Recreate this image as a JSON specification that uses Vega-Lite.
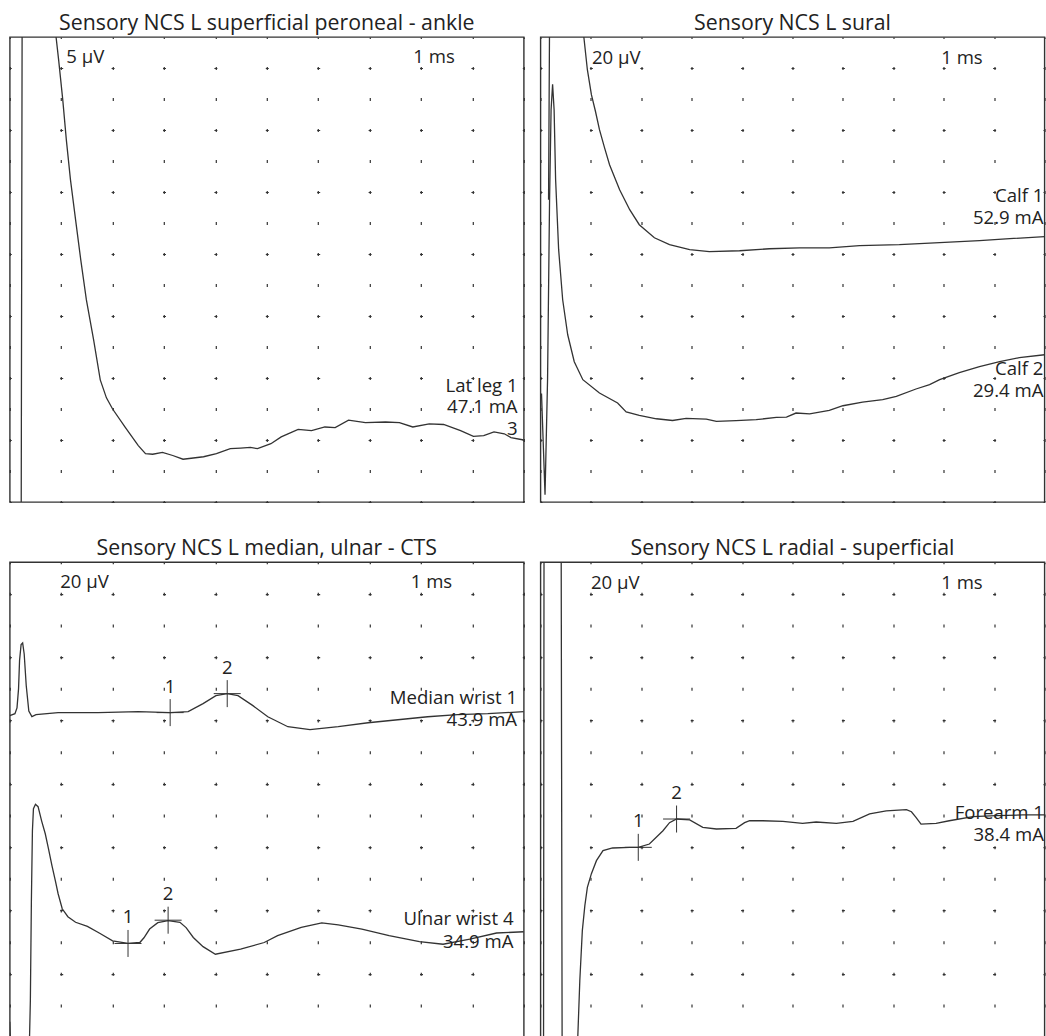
{
"$schema": "https://vega.github.io/schema/vega-lite/v6.json",
"background": "white",
"padding": {"left": 8.8, "top": 12, "right": 0, "bottom": 0},
"config": {
  "view": {"stroke": "#333", "strokeWidth": 1.4},
  "font": "Open Sans",
  "title": {"font": "Open Sans", "fontSize": 21.3, "fontWeight": "normal", "color": "#222", "offset": 3, "baseline": "alphabetic", "anchor": "middle"},
  "axis": {"labels": false, "ticks": false, "domain": false, "grid": true, "gridColor": "#333", "gridWidth": 1.2, "gridOpacity": 1, "minExtent": 0, "maxExtent": 0, "gridDashOffset": 1.5},
  "text": {"font": "Open Sans", "fontSize": 18.6, "color": "#222"},
  "line": {"stroke": "#333", "strokeWidth": 1.3}
},
"datasets": {
"traces": [
{"p":"TL","s":"Lat leg 1","t":0.22,"v":-85},{"p":"TL","s":"Lat leg 1","t":0.24,"v":3},{"p":"TL","s":"Lat leg 1","t":0.88,"v":3},{"p":"TL","s":"Lat leg 1","t":0.90,"v":0},{"p":"TL","s":"Lat leg 1","t":0.95,"v":-3.7},{"p":"TL","s":"Lat leg 1","t":1.03,"v":-10.1},{"p":"TL","s":"Lat leg 1","t":1.10,"v":-16.6},{"p":"TL","s":"Lat leg 1","t":1.18,"v":-23.0},{"p":"TL","s":"Lat leg 1","t":1.28,"v":-29.5},{"p":"TL","s":"Lat leg 1","t":1.38,"v":-35.9},{"p":"TL","s":"Lat leg 1","t":1.49,"v":-42.4},{"p":"TL","s":"Lat leg 1","t":1.63,"v":-48.8},{"p":"TL","s":"Lat leg 1","t":1.76,"v":-55.3},{"p":"TL","s":"Lat leg 1","t":1.88,"v":-58.2},{"p":"TL","s":"Lat leg 1","t":2.00,"v":-60.0},{"p":"TL","s":"Lat leg 1","t":2.25,"v":-63.0},{"p":"TL","s":"Lat leg 1","t":2.50,"v":-65.9},{"p":"TL","s":"Lat leg 1","t":2.64,"v":-67.2},{"p":"TL","s":"Lat leg 1","t":2.78,"v":-67.3},{"p":"TL","s":"Lat leg 1","t":2.97,"v":-67.0},{"p":"TL","s":"Lat leg 1","t":3.17,"v":-67.5},{"p":"TL","s":"Lat leg 1","t":3.37,"v":-68.1},{"p":"TL","s":"Lat leg 1","t":3.57,"v":-67.9},{"p":"TL","s":"Lat leg 1","t":3.77,"v":-67.7},{"p":"TL","s":"Lat leg 1","t":4.02,"v":-67.2},{"p":"TL","s":"Lat leg 1","t":4.29,"v":-66.4},{"p":"TL","s":"Lat leg 1","t":4.49,"v":-66.3},{"p":"TL","s":"Lat leg 1","t":4.68,"v":-66.2},{"p":"TL","s":"Lat leg 1","t":4.82,"v":-66.4},{"p":"TL","s":"Lat leg 1","t":5.08,"v":-65.6},{"p":"TL","s":"Lat leg 1","t":5.28,"v":-64.5},{"p":"TL","s":"Lat leg 1","t":5.61,"v":-63.3},{"p":"TL","s":"Lat leg 1","t":5.87,"v":-63.5},{"p":"TL","s":"Lat leg 1","t":6.13,"v":-62.9},{"p":"TL","s":"Lat leg 1","t":6.33,"v":-63.0},{"p":"TL","s":"Lat leg 1","t":6.59,"v":-61.8},{"p":"TL","s":"Lat leg 1","t":6.92,"v":-62.2},{"p":"TL","s":"Lat leg 1","t":7.31,"v":-62.1},{"p":"TL","s":"Lat leg 1","t":7.58,"v":-62.2},{"p":"TL","s":"Lat leg 1","t":7.84,"v":-62.9},{"p":"TL","s":"Lat leg 1","t":8.16,"v":-62.4},{"p":"TL","s":"Lat leg 1","t":8.44,"v":-62.5},{"p":"TL","s":"Lat leg 1","t":8.77,"v":-63.5},{"p":"TL","s":"Lat leg 1","t":9.02,"v":-64.4},{"p":"TL","s":"Lat leg 1","t":9.22,"v":-64.3},{"p":"TL","s":"Lat leg 1","t":9.42,"v":-63.7},{"p":"TL","s":"Lat leg 1","t":9.62,"v":-64.0},{"p":"TL","s":"Lat leg 1","t":9.75,"v":-64.6},{"p":"TL","s":"Lat leg 1","t":10.0,"v":-65.0},
{"p":"TR","s":"Calf 1","t":0.16,"v":-105},{"p":"TR","s":"Calf 1","t":0.18,"v":11},{"p":"TR","s":"Calf 1","t":0.83,"v":11},{"p":"TR","s":"Calf 1","t":0.86,"v":0},{"p":"TR","s":"Calf 1","t":0.93,"v":-21.1},{"p":"TR","s":"Calf 1","t":1.01,"v":-37.2},{"p":"TR","s":"Calf 1","t":1.09,"v":-47.9},{"p":"TR","s":"Calf 1","t":1.17,"v":-59.8},{"p":"TR","s":"Calf 1","t":1.27,"v":-71.4},{"p":"TR","s":"Calf 1","t":1.37,"v":-82.4},{"p":"TR","s":"Calf 1","t":1.57,"v":-98.5},{"p":"TR","s":"Calf 1","t":1.77,"v":-111.4},{"p":"TR","s":"Calf 1","t":1.96,"v":-121.1},{"p":"TR","s":"Calf 1","t":2.26,"v":-129.5},{"p":"TR","s":"Calf 1","t":2.56,"v":-134.0},{"p":"TR","s":"Calf 1","t":2.96,"v":-137.2},{"p":"TR","s":"Calf 1","t":3.35,"v":-138.5},{"p":"TR","s":"Calf 1","t":3.95,"v":-137.9},{"p":"TR","s":"Calf 1","t":4.54,"v":-136.6},{"p":"TR","s":"Calf 1","t":5.14,"v":-136.0},{"p":"TR","s":"Calf 1","t":5.73,"v":-136.0},{"p":"TR","s":"Calf 1","t":6.33,"v":-134.6},{"p":"TR","s":"Calf 1","t":7.12,"v":-134.0},{"p":"TR","s":"Calf 1","t":7.92,"v":-132.7},{"p":"TR","s":"Calf 1","t":8.71,"v":-131.4},{"p":"TR","s":"Calf 1","t":9.31,"v":-130.1},{"p":"TR","s":"Calf 1","t":10.0,"v":-128.8},
{"p":"TR","s":"Calf 2","t":0.02,"v":-230},{"p":"TR","s":"Calf 2","t":0.09,"v":-295.3},{"p":"TR","s":"Calf 2","t":0.14,"v":-221},{"p":"TR","s":"Calf 2","t":0.18,"v":-104.9},{"p":"TR","s":"Calf 2","t":0.21,"v":-46.9},{"p":"TR","s":"Calf 2","t":0.24,"v":-30.5},{"p":"TR","s":"Calf 2","t":0.27,"v":-46.9},{"p":"TR","s":"Calf 2","t":0.30,"v":-92.1},{"p":"TR","s":"Calf 2","t":0.36,"v":-137.2},{"p":"TR","s":"Calf 2","t":0.44,"v":-169.5},{"p":"TR","s":"Calf 2","t":0.54,"v":-192.1},{"p":"TR","s":"Calf 2","t":0.67,"v":-209.5},{"p":"TR","s":"Calf 2","t":0.84,"v":-221.1},{"p":"TR","s":"Calf 2","t":1.17,"v":-229.7},{"p":"TR","s":"Calf 2","t":1.53,"v":-236.1},{"p":"TR","s":"Calf 2","t":1.70,"v":-241.9},{"p":"TR","s":"Calf 2","t":1.96,"v":-244.1},{"p":"TR","s":"Calf 2","t":2.30,"v":-246.3},{"p":"TR","s":"Calf 2","t":2.62,"v":-247.4},{"p":"TR","s":"Calf 2","t":2.89,"v":-246.1},{"p":"TR","s":"Calf 2","t":3.29,"v":-246.5},{"p":"TR","s":"Calf 2","t":3.49,"v":-248.0},{"p":"TR","s":"Calf 2","t":3.88,"v":-247.5},{"p":"TR","s":"Calf 2","t":4.28,"v":-246.9},{"p":"TR","s":"Calf 2","t":4.68,"v":-245.4},{"p":"TR","s":"Calf 2","t":4.88,"v":-245.2},{"p":"TR","s":"Calf 2","t":5.07,"v":-242.6},{"p":"TR","s":"Calf 2","t":5.34,"v":-243.2},{"p":"TR","s":"Calf 2","t":5.73,"v":-240.9},{"p":"TR","s":"Calf 2","t":6.00,"v":-237.9},{"p":"TR","s":"Calf 2","t":6.39,"v":-235.5},{"p":"TR","s":"Calf 2","t":6.79,"v":-234.0},{"p":"TR","s":"Calf 2","t":7.06,"v":-231.9},{"p":"TR","s":"Calf 2","t":7.45,"v":-227.1},{"p":"TR","s":"Calf 2","t":7.72,"v":-224.3},{"p":"TR","s":"Calf 2","t":7.92,"v":-221.1},{"p":"TR","s":"Calf 2","t":8.31,"v":-216.6},{"p":"TR","s":"Calf 2","t":8.71,"v":-212.7},{"p":"TR","s":"Calf 2","t":9.11,"v":-209.5},{"p":"TR","s":"Calf 2","t":9.50,"v":-206.9},{"p":"TR","s":"Calf 2","t":10.0,"v":-205.0},
{"p":"BL","s":"Median wrist 1","t":0,"v":-96.9},{"p":"BL","s":"Median wrist 1","t":0.10,"v":-95.7},{"p":"BL","s":"Median wrist 1","t":0.14,"v":-92},{"p":"BL","s":"Median wrist 1","t":0.17,"v":-80},{"p":"BL","s":"Median wrist 1","t":0.19,"v":-62},{"p":"BL","s":"Median wrist 1","t":0.22,"v":-52},{"p":"BL","s":"Median wrist 1","t":0.25,"v":-51},{"p":"BL","s":"Median wrist 1","t":0.28,"v":-58},{"p":"BL","s":"Median wrist 1","t":0.32,"v":-78},{"p":"BL","s":"Median wrist 1","t":0.37,"v":-94},{"p":"BL","s":"Median wrist 1","t":0.43,"v":-97.5},{"p":"BL","s":"Median wrist 1","t":0.51,"v":-96.3},{"p":"BL","s":"Median wrist 1","t":0.94,"v":-95.0},{"p":"BL","s":"Median wrist 1","t":1.72,"v":-95.0},{"p":"BL","s":"Median wrist 1","t":2.50,"v":-94.4},{"p":"BL","s":"Median wrist 1","t":3.12,"v":-95.0},{"p":"BL","s":"Median wrist 1","t":3.47,"v":-94.4},{"p":"BL","s":"Median wrist 1","t":3.76,"v":-89.3},{"p":"BL","s":"Median wrist 1","t":4.01,"v":-84.3},{"p":"BL","s":"Median wrist 1","t":4.23,"v":-83.0},{"p":"BL","s":"Median wrist 1","t":4.44,"v":-84.3},{"p":"BL","s":"Median wrist 1","t":4.73,"v":-90.6},{"p":"BL","s":"Median wrist 1","t":5.02,"v":-97.6},{"p":"BL","s":"Median wrist 1","t":5.41,"v":-103.9},{"p":"BL","s":"Median wrist 1","t":5.84,"v":-105.8},{"p":"BL","s":"Median wrist 1","t":6.39,"v":-103.9},{"p":"BL","s":"Median wrist 1","t":6.97,"v":-101.4},{"p":"BL","s":"Median wrist 1","t":7.55,"v":-99.5},{"p":"BL","s":"Median wrist 1","t":8.13,"v":-97.6},{"p":"BL","s":"Median wrist 1","t":8.71,"v":-96.3},{"p":"BL","s":"Median wrist 1","t":9.30,"v":-95.7},{"p":"BL","s":"Median wrist 1","t":10.0,"v":-94.4},
{"p":"BL","s":"Ulnar wrist 4","t":0,"v":-290.2},{"p":"BL","s":"Ulnar wrist 4","t":0.03,"v":-320},{"p":"BL","s":"Ulnar wrist 4","t":0.37,"v":-320},{"p":"BL","s":"Ulnar wrist 4","t":0.40,"v":-277},{"p":"BL","s":"Ulnar wrist 4","t":0.42,"v":-213.8},{"p":"BL","s":"Ulnar wrist 4","t":0.44,"v":-169.6},{"p":"BL","s":"Ulnar wrist 4","t":0.46,"v":-155.7},{"p":"BL","s":"Ulnar wrist 4","t":0.50,"v":-152.9},{"p":"BL","s":"Ulnar wrist 4","t":0.55,"v":-154.4},{"p":"BL","s":"Ulnar wrist 4","t":0.62,"v":-163.5},{"p":"BL","s":"Ulnar wrist 4","t":0.69,"v":-171.5},{"p":"BL","s":"Ulnar wrist 4","t":0.75,"v":-180.6},{"p":"BL","s":"Ulnar wrist 4","t":0.82,"v":-191.7},{"p":"BL","s":"Ulnar wrist 4","t":0.89,"v":-201.8},{"p":"BL","s":"Ulnar wrist 4","t":0.94,"v":-209.4},{"p":"BL","s":"Ulnar wrist 4","t":1.02,"v":-218.9},{"p":"BL","s":"Ulnar wrist 4","t":1.13,"v":-223.9},{"p":"BL","s":"Ulnar wrist 4","t":1.28,"v":-227.4},{"p":"BL","s":"Ulnar wrist 4","t":1.51,"v":-230.0},{"p":"BL","s":"Ulnar wrist 4","t":1.74,"v":-234.2},{"p":"BL","s":"Ulnar wrist 4","t":2.00,"v":-239.1},{"p":"BL","s":"Ulnar wrist 4","t":2.30,"v":-240.8},{"p":"BL","s":"Ulnar wrist 4","t":2.53,"v":-240.2},{"p":"BL","s":"Ulnar wrist 4","t":2.61,"v":-237.2},{"p":"BL","s":"Ulnar wrist 4","t":2.72,"v":-231.7},{"p":"BL","s":"Ulnar wrist 4","t":2.88,"v":-227.7},{"p":"BL","s":"Ulnar wrist 4","t":3.08,"v":-226.4},{"p":"BL","s":"Ulnar wrist 4","t":3.31,"v":-227.4},{"p":"BL","s":"Ulnar wrist 4","t":3.43,"v":-230.8},{"p":"BL","s":"Ulnar wrist 4","t":3.57,"v":-237.0},{"p":"BL","s":"Ulnar wrist 4","t":3.76,"v":-242.8},{"p":"BL","s":"Ulnar wrist 4","t":4.00,"v":-247.6},{"p":"BL","s":"Ulnar wrist 4","t":4.49,"v":-244.4},{"p":"BL","s":"Ulnar wrist 4","t":4.95,"v":-240.2},{"p":"BL","s":"Ulnar wrist 4","t":5.21,"v":-235.9},{"p":"BL","s":"Ulnar wrist 4","t":5.67,"v":-230.6},{"p":"BL","s":"Ulnar wrist 4","t":6.07,"v":-227.8},{"p":"BL","s":"Ulnar wrist 4","t":6.39,"v":-229.1},{"p":"BL","s":"Ulnar wrist 4","t":6.85,"v":-231.7},{"p":"BL","s":"Ulnar wrist 4","t":7.38,"v":-235.9},{"p":"BL","s":"Ulnar wrist 4","t":7.97,"v":-239.7},{"p":"BL","s":"Ulnar wrist 4","t":8.43,"v":-241.3},{"p":"BL","s":"Ulnar wrist 4","t":8.95,"v":-238.1},{"p":"BL","s":"Ulnar wrist 4","t":9.47,"v":-234.2},{"p":"BL","s":"Ulnar wrist 4","t":10.0,"v":-233.4},
{"p":"BR","s":"Forearm 1","t":0.06,"v":-320},{"p":"BR","s":"Forearm 1","t":0.07,"v":15},{"p":"BR","s":"Forearm 1","t":0.41,"v":15},{"p":"BR","s":"Forearm 1","t":0.43,"v":-320},{"p":"BR","s":"Forearm 1","t":0.71,"v":-320},{"p":"BR","s":"Forearm 1","t":0.74,"v":-299.7},{"p":"BR","s":"Forearm 1","t":0.78,"v":-264.3},{"p":"BR","s":"Forearm 1","t":0.83,"v":-232.7},{"p":"BR","s":"Forearm 1","t":0.88,"v":-216.9},{"p":"BR","s":"Forearm 1","t":0.93,"v":-205.4},{"p":"BR","s":"Forearm 1","t":1.01,"v":-196.7},{"p":"BR","s":"Forearm 1","t":1.11,"v":-188.5},{"p":"BR","s":"Forearm 1","t":1.24,"v":-182.2},{"p":"BR","s":"Forearm 1","t":1.43,"v":-180.5},{"p":"BR","s":"Forearm 1","t":1.77,"v":-180.1},{"p":"BR","s":"Forearm 1","t":1.94,"v":-180.1},{"p":"BR","s":"Forearm 1","t":2.16,"v":-178.0},{"p":"BR","s":"Forearm 1","t":2.43,"v":-169.6},{"p":"BR","s":"Forearm 1","t":2.56,"v":-164.5},{"p":"BR","s":"Forearm 1","t":2.70,"v":-162.2},{"p":"BR","s":"Forearm 1","t":2.96,"v":-162.8},{"p":"BR","s":"Forearm 1","t":3.22,"v":-167.5},{"p":"BR","s":"Forearm 1","t":3.49,"v":-168.5},{"p":"BR","s":"Forearm 1","t":3.88,"v":-168.1},{"p":"BR","s":"Forearm 1","t":4.05,"v":-164.5},{"p":"BR","s":"Forearm 1","t":4.15,"v":-163.3},{"p":"BR","s":"Forearm 1","t":4.41,"v":-163.3},{"p":"BR","s":"Forearm 1","t":4.81,"v":-163.7},{"p":"BR","s":"Forearm 1","t":5.20,"v":-165.0},{"p":"BR","s":"Forearm 1","t":5.47,"v":-164.1},{"p":"BR","s":"Forearm 1","t":5.87,"v":-165.0},{"p":"BR","s":"Forearm 1","t":6.20,"v":-163.7},{"p":"BR","s":"Forearm 1","t":6.53,"v":-159.0},{"p":"BR","s":"Forearm 1","t":6.86,"v":-157.0},{"p":"BR","s":"Forearm 1","t":7.26,"v":-156.3},{"p":"BR","s":"Forearm 1","t":7.36,"v":-157.6},{"p":"BR","s":"Forearm 1","t":7.45,"v":-161.2},{"p":"BR","s":"Forearm 1","t":7.55,"v":-165.4},{"p":"BR","s":"Forearm 1","t":7.85,"v":-165.0},{"p":"BR","s":"Forearm 1","t":8.11,"v":-163.3},{"p":"BR","s":"Forearm 1","t":8.58,"v":-160.7},{"p":"BR","s":"Forearm 1","t":9.04,"v":-160.1},{"p":"BR","s":"Forearm 1","t":9.57,"v":-159.6},{"p":"BR","s":"Forearm 1","t":10.0,"v":-159.6}
],
"labels": [
{"p":"TL","k":"scale","text":"5 µV","t":1.10,"v":-4.27},{"p":"TL","k":"scale","text":"1 ms","t":7.85,"v":-4.27},
{"p":"TL","k":"site","text":"Lat leg 1","t":9.88,"v":-57.2},{"p":"TL","k":"site","text":"47.1 mA","t":9.88,"v":-60.7},{"p":"TL","k":"site","text":"3","t":9.88,"v":-64.2},
{"p":"TR","k":"scale","text":"20 µV","t":1.02,"v":-17.1},{"p":"TR","k":"scale","text":"1 ms","t":7.95,"v":-17.1},
{"p":"TR","k":"site","text":"Calf 1","t":9.98,"v":-106.3},{"p":"TR","k":"site","text":"52.9 mA","t":9.98,"v":-120.5},{"p":"TR","k":"site","text":"Calf 2","t":9.98,"v":-217.9},{"p":"TR","k":"site","text":"29.4 mA","t":9.98,"v":-232.1},
{"p":"BL","k":"scale","text":"20 µV","t":0.98,"v":-16.4},{"p":"BL","k":"scale","text":"1 ms","t":7.8,"v":-16.4},
{"p":"BL","k":"site","text":"Median wrist 1","t":9.87,"v":-89.4},{"p":"BL","k":"site","text":"43.9 mA","t":9.87,"v":-103.3},{"p":"BL","k":"site","text":"Ulnar wrist 4","t":9.80,"v":-229.1},{"p":"BL","k":"site","text":"34.9 mA","t":9.80,"v":-243.4},
{"p":"BR","k":"scale","text":"20 µV","t":1.0,"v":-16.7},{"p":"BR","k":"scale","text":"1 ms","t":7.95,"v":-16.7},
{"p":"BR","k":"site","text":"Forearm 1","t":9.99,"v":-162.1},{"p":"BR","k":"site","text":"38.4 mA","t":9.99,"v":-175.8}
],
"markers": [
{"p":"BL","s":"Median wrist 1","m":"1","t":3.12,"v":-95.0},{"p":"BL","s":"Median wrist 1","m":"2","t":4.23,"v":-83.0},
{"p":"BL","s":"Ulnar wrist 4","m":"1","t":2.30,"v":-240.8},{"p":"BL","s":"Ulnar wrist 4","m":"2","t":3.08,"v":-226.1},
{"p":"BR","s":"Forearm 1","m":"1","t":1.94,"v":-180.1},{"p":"BR","s":"Forearm 1","m":"2","t":2.70,"v":-162.2}
]
},
"spacing": 34.2,
"vconcat": [
{"spacing": 14.7, "hconcat": [
 {"width": 514, "height": 465, "title": "Sensory NCS L superficial peroneal - ankle",
  "layer": [
   {"data": {"name": "traces"}, "transform": [{"filter": "datum.p === 'TL'"}], "mark": {"type": "line", "clip": true},
    "encoding": {
     "x": {"field": "t", "type": "quantitative", "scale": {"domain": [0, 10], "nice": false, "zero": false}, "axis": {"orient": "bottom", "title": null, "values": [0,1,2,3,4,5,6,7,8,9,10], "gridDash": [3, 28]}},
     "y": {"field": "v", "type": "quantitative", "scale": {"domain": [-75, 0], "nice": false, "zero": false}, "axis": {"orient": "left", "title": null, "values": [0,-5,-10,-15,-20,-25,-30,-35,-40,-45,-50,-55,-60,-65,-70,-75], "gridDash": [3, 48.4]}},
     "detail": {"field": "s"}}},
   {"data": {"name": "labels"}, "transform": [{"filter": "datum.p === 'TL' && datum.k === 'scale'"}], "mark": {"type": "text", "align": "left", "baseline": "alphabetic"},
    "encoding": {"x": {"field": "t", "type": "quantitative"}, "y": {"field": "v", "type": "quantitative"}, "text": {"field": "text"}}},
   {"data": {"name": "labels"}, "transform": [{"filter": "datum.p === 'TL' && datum.k === 'site'"}], "mark": {"type": "text", "align": "right", "baseline": "alphabetic"},
    "encoding": {"x": {"field": "t", "type": "quantitative"}, "y": {"field": "v", "type": "quantitative"}, "text": {"field": "text"}}}
  ]},
 {"width": 504, "height": 465, "title": "Sensory NCS L sural",
  "layer": [
   {"data": {"name": "traces"}, "transform": [{"filter": "datum.p === 'TR'"}], "mark": {"type": "line", "clip": true},
    "encoding": {
     "x": {"field": "t", "type": "quantitative", "scale": {"domain": [0, 10], "nice": false, "zero": false}, "axis": {"orient": "bottom", "title": null, "values": [0,1,2,3,4,5,6,7,8,9,10], "gridDash": [3, 28]}},
     "y": {"field": "v", "type": "quantitative", "scale": {"domain": [-300, 0], "nice": false, "zero": false}, "axis": {"orient": "left", "title": null, "values": [0,-20,-40,-60,-80,-100,-120,-140,-160,-180,-200,-220,-240,-260,-280,-300], "gridDash": [3, 47.4]}},
     "detail": {"field": "s"}}},
   {"data": {"name": "labels"}, "transform": [{"filter": "datum.p === 'TR' && datum.k === 'scale'"}], "mark": {"type": "text", "align": "left", "baseline": "alphabetic"},
    "encoding": {"x": {"field": "t", "type": "quantitative"}, "y": {"field": "v", "type": "quantitative"}, "text": {"field": "text"}}},
   {"data": {"name": "labels"}, "transform": [{"filter": "datum.p === 'TR' && datum.k === 'site'"}], "mark": {"type": "text", "align": "right", "baseline": "alphabetic"},
    "encoding": {"x": {"field": "t", "type": "quantitative"}, "y": {"field": "v", "type": "quantitative"}, "text": {"field": "text"}}}
  ]}
]},
{"spacing": 14.7, "hconcat": [
 {"width": 514, "height": 475, "title": "Sensory NCS L median, ulnar - CTS",
  "layer": [
   {"data": {"name": "traces"}, "transform": [{"filter": "datum.p === 'BL'"}], "mark": {"type": "line", "clip": true},
    "encoding": {
     "x": {"field": "t", "type": "quantitative", "scale": {"domain": [0, 10], "nice": false, "zero": false}, "axis": {"orient": "bottom", "title": null, "values": [0,1,2,3,4,5,6,7,8,9,10], "gridDash": [3, 28.667]}},
     "y": {"field": "v", "type": "quantitative", "scale": {"domain": [-300, 0], "nice": false, "zero": false}, "axis": {"orient": "left", "title": null, "values": [0,-20,-40,-60,-80,-100,-120,-140,-160,-180,-200,-220,-240,-260,-280,-300], "gridDash": [3, 48.4]}},
     "detail": {"field": "s"}}},
   {"data": {"name": "markers"}, "transform": [{"filter": "datum.p === 'BL'"}], "mark": {"type": "point", "shape": "M-1,0L1,0M0,-1L0,1", "size": 729, "filled": false, "stroke": "#333", "strokeWidth": 1, "opacity": 1},
    "encoding": {"x": {"field": "t", "type": "quantitative"}, "y": {"field": "v", "type": "quantitative"}}},
   {"data": {"name": "markers"}, "transform": [{"filter": "datum.p === 'BL'"}], "mark": {"type": "text", "align": "center", "baseline": "alphabetic", "dy": -20},
    "encoding": {"x": {"field": "t", "type": "quantitative"}, "y": {"field": "v", "type": "quantitative"}, "text": {"field": "m"}}},
   {"data": {"name": "labels"}, "transform": [{"filter": "datum.p === 'BL' && datum.k === 'scale'"}], "mark": {"type": "text", "align": "left", "baseline": "alphabetic"},
    "encoding": {"x": {"field": "t", "type": "quantitative"}, "y": {"field": "v", "type": "quantitative"}, "text": {"field": "text"}}},
   {"data": {"name": "labels"}, "transform": [{"filter": "datum.p === 'BL' && datum.k === 'site'"}], "mark": {"type": "text", "align": "right", "baseline": "alphabetic"},
    "encoding": {"x": {"field": "t", "type": "quantitative"}, "y": {"field": "v", "type": "quantitative"}, "text": {"field": "text"}}}
  ]},
 {"width": 504, "height": 475, "title": "Sensory NCS L radial - superficial",
  "layer": [
   {"data": {"name": "traces"}, "transform": [{"filter": "datum.p === 'BR'"}], "mark": {"type": "line", "clip": true},
    "encoding": {
     "x": {"field": "t", "type": "quantitative", "scale": {"domain": [0, 10], "nice": false, "zero": false}, "axis": {"orient": "bottom", "title": null, "values": [0,1,2,3,4,5,6,7,8,9,10], "gridDash": [3, 28.667]}},
     "y": {"field": "v", "type": "quantitative", "scale": {"domain": [-300, 0], "nice": false, "zero": false}, "axis": {"orient": "left", "title": null, "values": [0,-20,-40,-60,-80,-100,-120,-140,-160,-180,-200,-220,-240,-260,-280,-300], "gridDash": [3, 47.4]}},
     "detail": {"field": "s"}}},
   {"data": {"name": "markers"}, "transform": [{"filter": "datum.p === 'BR'"}], "mark": {"type": "point", "shape": "M-1,0L1,0M0,-1L0,1", "size": 729, "filled": false, "stroke": "#333", "strokeWidth": 1, "opacity": 1},
    "encoding": {"x": {"field": "t", "type": "quantitative"}, "y": {"field": "v", "type": "quantitative"}}},
   {"data": {"name": "markers"}, "transform": [{"filter": "datum.p === 'BR'"}], "mark": {"type": "text", "align": "center", "baseline": "alphabetic", "dy": -20},
    "encoding": {"x": {"field": "t", "type": "quantitative"}, "y": {"field": "v", "type": "quantitative"}, "text": {"field": "m"}}},
   {"data": {"name": "labels"}, "transform": [{"filter": "datum.p === 'BR' && datum.k === 'scale'"}], "mark": {"type": "text", "align": "left", "baseline": "alphabetic"},
    "encoding": {"x": {"field": "t", "type": "quantitative"}, "y": {"field": "v", "type": "quantitative"}, "text": {"field": "text"}}},
   {"data": {"name": "labels"}, "transform": [{"filter": "datum.p === 'BR' && datum.k === 'site'"}], "mark": {"type": "text", "align": "right", "baseline": "alphabetic"},
    "encoding": {"x": {"field": "t", "type": "quantitative"}, "y": {"field": "v", "type": "quantitative"}, "text": {"field": "text"}}}
  ]}
]}
]
}
